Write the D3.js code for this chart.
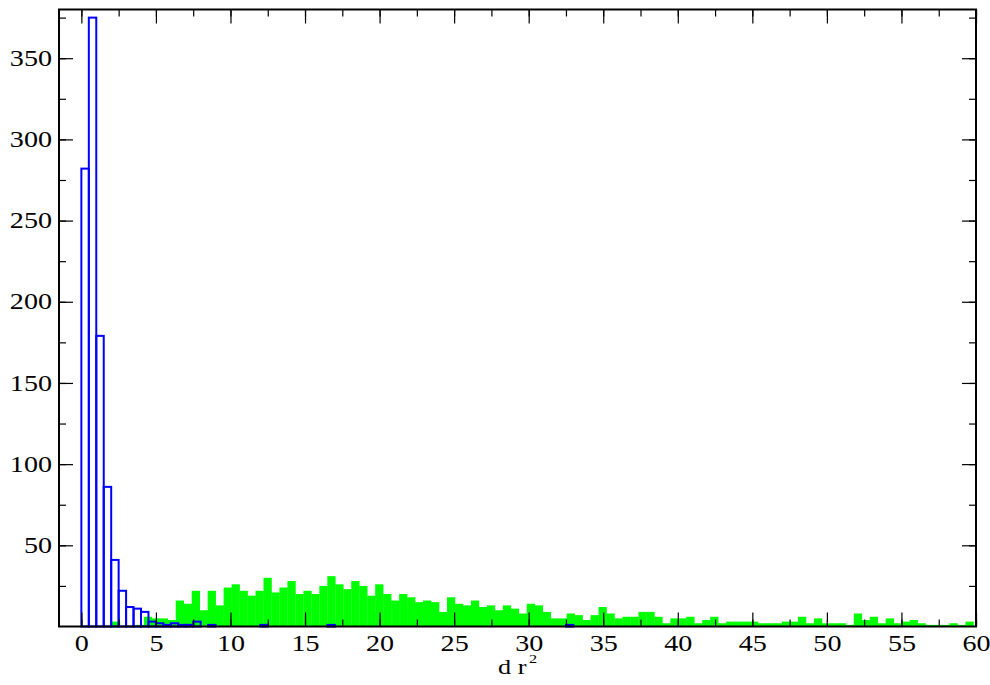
<!DOCTYPE html>
<html>
<head>
<meta charset="utf-8">
<script src="https://cdn.jsdelivr.net/npm/d3@7"></script>
<style>
  body { margin: 0; background: #fff; }
  text { font-family: "Liberation Serif", "DejaVu Serif", serif; fill: #000; }
</style>
</head>
<body>
<script>
// blue histogram: bins of width 0.5 starting at 0
const blueStart = 0
const blueWidth = 0.5
const blueCounts = [282, 375, 179, 86, 41, 22, 12, 11, 9, 3, 2, 1, 2, 1, 1, 3, 0, 1,
    0, 0, 0, 0, 0, 0, 1, 0, 0, 0, 0, 0, 0, 0, 0, 1,
    0, 0, 0, 0, 0, 0, 0, 0, 0, 0, 0, 0, 0, 0, 0, 0,
    0, 0, 0, 0, 0, 0, 0, 0, 0, 0, 0, 0, 0, 0, 0, 1]

// green histogram: slightly wider bins
const greenStart = 2.05
const greenWidth = 0.535
const greenCounts = [3, 0, 0, 1, 6, 5, 5, 4, 16, 14, 22, 10, 22, 13, 24, 26,
    22, 19, 22, 30, 21, 24, 28, 20, 22, 20, 25, 31, 26, 23, 28, 25,
    19, 26, 20, 16, 20, 18, 15, 16, 15, 9, 18, 14, 13, 16, 12, 13,
    10, 13, 11, 8, 14, 13, 9, 5, 5, 8, 7, 4, 7, 12, 8, 5,
    6, 6, 9, 9, 6, 2, 5, 5, 6, 2, 4, 6, 2, 3, 3, 3,
    3, 2, 2, 2, 3, 3, 6, 2, 5, 2, 2, 2, 1, 8, 4, 6,
    2, 5, 2, 3, 4, 2, 1, 1, 1, 2, 1, 3]

const xMajorTicks = d3.range(0, 61, 5)
const xMinorTicks = d3.range(0, 60.1, 2.5)
const yMajorTicks = [50, 100, 150, 200, 250, 300, 350]
const yMinorTicks = d3.range(25, 380, 25)

const W = 990, H = 685
const M = { left: 59, right: 976, top: 9.5, bottom: 626.5 }
const STRETCH = 1.25 // text in the original is horizontally stretched

const svg = d3.select('body').append('svg')
    .attr('width', W)
    .attr('height', H)

const x = d3.scaleLinear().domain([-1.5, 60]).range([M.left, M.right])
const y = d3.scaleLinear().domain([0, 380]).range([M.bottom, M.top])

const toBins = (counts, start, width) => counts.map((c, i) => ({
    x0: start + i * width, x1: start + (i + 1) * width, c
})).filter(d => d.c > 0)

// green bars
svg.append('g').selectAll('rect')
    .data(toBins(greenCounts, greenStart, greenWidth))
    .join('rect')
    .attr('x', d => x(d.x0))
    .attr('y', d => y(d.c))
    .attr('width', d => x(d.x1) - x(d.x0) + 0.3)
    .attr('height', d => y(0) - y(d.c))
    .attr('fill', '#00ff00')

// blue outlined bars
svg.append('g').selectAll('rect')
    .data(toBins(blueCounts, blueStart, blueWidth))
    .join('rect')
    .attr('x', d => x(d.x0))
    .attr('y', d => y(d.c))
    .attr('width', d => x(d.x1) - x(d.x0))
    .attr('height', d => y(0) - y(d.c))
    .attr('fill', 'none')
    .attr('stroke', '#0000ff')
    .attr('stroke-width', 2)

// axes: ticks point inward on all four sides
const MAJ = 14, MIN = 7
const axisG = svg.append('g')

const bottomAxis = d3.axisBottom(x).tickValues(xMajorTicks).tickSize(-MAJ).tickPadding(9).tickSizeOuter(0)
const bottomMinor = d3.axisBottom(x).tickValues(xMinorTicks).tickSize(-MIN).tickFormat('').tickSizeOuter(0)
const topAxis = d3.axisTop(x).tickValues(xMajorTicks).tickSize(-MAJ).tickFormat('').tickSizeOuter(0)
const topMinor = d3.axisTop(x).tickValues(xMinorTicks).tickSize(-MIN).tickFormat('').tickSizeOuter(0)
const leftAxis = d3.axisLeft(y).tickValues(yMajorTicks).tickSize(-MAJ).tickPadding(7 / STRETCH).tickSizeOuter(0)
const leftMinor = d3.axisLeft(y).tickValues(yMinorTicks).tickSize(-MIN).tickFormat('').tickSizeOuter(0)
const rightAxis = d3.axisRight(y).tickValues(yMajorTicks).tickSize(-MAJ).tickFormat('').tickSizeOuter(0)
const rightMinor = d3.axisRight(y).tickValues(yMinorTicks).tickSize(-MIN).tickFormat('').tickSizeOuter(0)

axisG.append('g').attr('transform', `translate(0,${M.bottom})`).call(bottomMinor)
axisG.append('g').attr('transform', `translate(0,${M.bottom})`).call(bottomAxis)
axisG.append('g').attr('transform', `translate(0,${M.top})`).call(topMinor)
axisG.append('g').attr('transform', `translate(0,${M.top})`).call(topAxis)
axisG.append('g').attr('transform', `translate(${M.left},0)`).call(leftMinor)
axisG.append('g').attr('transform', `translate(${M.left},0)`).call(leftAxis)
axisG.append('g').attr('transform', `translate(${M.right},0)`).call(rightMinor)
axisG.append('g').attr('transform', `translate(${M.right},0)`).call(rightAxis)

axisG.selectAll('.domain').remove()
axisG.selectAll('.tick line').attr('stroke', '#000').attr('stroke-width', 1.2)
axisG.selectAll('.tick text')
    .style('font-family', '"Liberation Serif", serif')
    .style('font-size', '22.5px')
    .attr('transform', `scale(${STRETCH},1)`)

// frame
svg.append('rect')
    .attr('x', M.left).attr('y', M.top)
    .attr('width', M.right - M.left).attr('height', M.bottom - M.top)
    .attr('fill', 'none')
    .attr('stroke', '#000')
    .attr('stroke-width', 2)

// x label: d r^2
const xl = svg.append('text')
    .attr('transform', `translate(498,674) scale(${STRETCH},1)`)
    .style('font-size', '21px')
xl.append('tspan').text('d r')
xl.append('tspan').attr('dx', 2).attr('dy', -11).style('font-size', '13px').text('2')
</script>
</body>
</html>
